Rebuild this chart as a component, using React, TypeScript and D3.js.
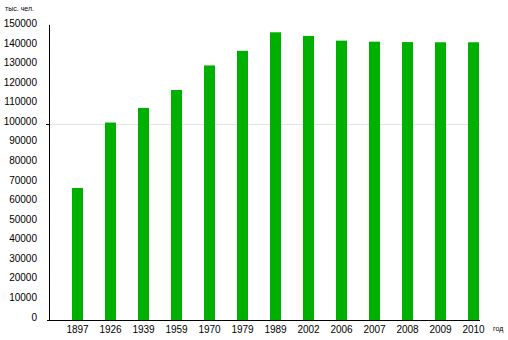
import React from "react";
import * as d3 from "d3";

const years = ["1897", "1926", "1939", "1959", "1970", "1979", "1989", "2002", "2006", "2007", "2008", "2009", "2010"];
const population = [67473, 100891, 108377, 117534, 130079, 137551, 147022, 145167, 142754, 142221, 142009, 141904, 141914];
const yTicks = [0, 10000, 20000, 30000, 40000, 50000, 60000, 70000, 80000, 90000, 100000, 110000, 120000, 130000, 140000, 150000];
const gridValues = [100000];
const yUnit = "тыс. чел.";
const xUnit = "год";

const W = 508;
const H = 340;

export default function App() {
  const x = d3.scaleBand<string>().domain(years).range([61, 490]).paddingInner(2 / 3).paddingOuter(1 / 3);
  const y = d3.scaleLinear().domain([0, 100000]).range([320, 124.3]);
  const font = "'Liberation Sans', Arial, sans-serif";
  const axisTop = y(150800);
  return (
    <svg width={W} height={H} style={{ position: "absolute", left: 0, top: 0, background: "#fff" }} fontFamily={font}>
      {gridValues.map((g) => (
        <g key={g}>
          <line x1={49.5} x2={480} y1={Math.round(y(g)) + 0.5} y2={Math.round(y(g)) + 0.5} stroke="#e3e3e3" strokeWidth={1} />
          <line x1={46} x2={49.5} y1={Math.round(y(g)) + 0.5} y2={Math.round(y(g)) + 0.5} stroke="#000" strokeWidth={1} />
        </g>
      ))}
      {years.map((yr, i) => (
        <rect key={yr} x={x(yr)} width={x.bandwidth()} y={y(population[i])} height={y(0) - y(population[i])} fill="#00b000" />
      ))}
      <line x1={49.5} x2={49.5} y1={axisTop} y2={320.5} stroke="#000" strokeWidth={1} />
      <line x1={47} x2={480} y1={320.5} y2={320.5} stroke="#000" strokeWidth={1} />
      {yTicks.map((t) => (
        <text key={t} x={37} y={y(t) + 0.5} textAnchor="end" fontSize={10} fill="#000">
          {t}
        </text>
      ))}
      {years.map((yr) => (
        <text key={yr} x={(x(yr) as number) + x.bandwidth() / 2} y={332.5} textAnchor="middle" fontSize={10} fill="#000">
          {yr}
        </text>
      ))}
      <text x={5} y={11} fontSize={7} fill="#000">{yUnit}</text>
      <text x={493} y={331} fontSize={7} fill="#000">{xUnit}</text>
    </svg>
  );
}
